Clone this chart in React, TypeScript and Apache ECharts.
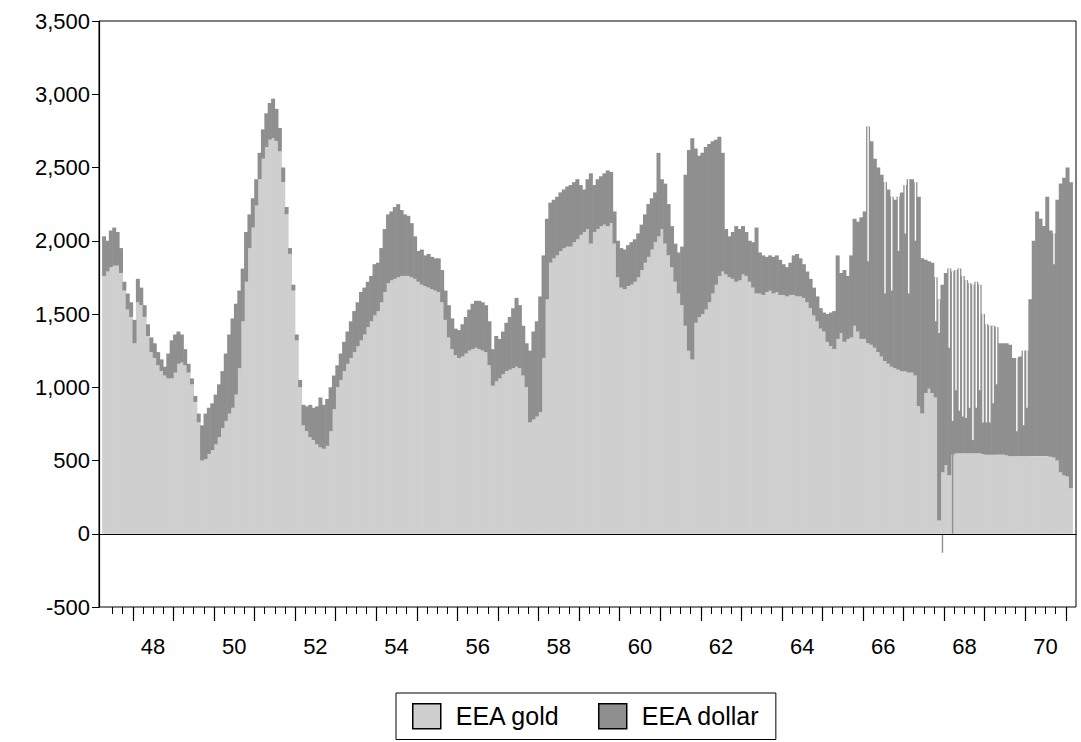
import React, { useEffect, useRef } from 'react';
import * as echarts from 'echarts';

// ---------- categories (monthly, Mar 1947 .. Mar 1971) ----------
const firstYear = 1947;
const firstMonth = 3;
const monthCount = 289;
const months: string[] = [];
for (let i = 0; i < monthCount; i++) {
  const k = firstMonth - 1 + i;
  const y = firstYear + Math.floor(k / 12);
  const m = (k % 12) + 1;
  months.push(`${y}-${m < 10 ? '0' + m : m}`);
}

// ---------- series values (millions of dollars) ----------
const eeaGold: (number | null)[] = [
  /*1947 Mar-Dec*/ null, 1760, 1790, 1820, 1830, 1830, 1780, 1660, 1530, 1480,
  /*1948*/ 1300, 1580, 1560, 1480, 1350, 1240, 1200, 1150, 1110, 1080, 1060, 1060,
  /*1949*/ 1100, 1160, 1170, 1150, 1100, 1020, 900, 760, 500, 510, 545, 570,
  /*1950*/ 610, 660, 720, 770, 820, 860, 950, 1130, 1450, 1720, 1950, 2090,
  /*1951*/ 2240, 2420, 2560, 2640, 2690, 2700, 2680, 2610, 2400, 2180, 1910, 1660,
  /*1952*/ 1320, 1000, 740, 700, 660, 640, 610, 590, 580, 600, 700, 850,
  /*1953*/ 1000, 1050, 1110, 1160, 1200, 1240, 1280, 1320, 1360, 1410, 1450, 1490,
  /*1954*/ 1520, 1580, 1650, 1710, 1730, 1740, 1750, 1760, 1760, 1760, 1750, 1740,
  /*1955*/ 1720, 1700, 1690, 1680, 1670, 1660, 1650, 1580, 1460, 1340, 1260, 1220,
  /*1956*/ 1200, 1210, 1230, 1250, 1260, 1270, 1260, 1250, 1240, 1150, 1010, 1040,
  /*1957*/ 1060, 1090, 1110, 1120, 1130, 1140, 1130, 1080, 1000, 760, 780, 800,
  /*1958*/ 830, 1200, 1600, 1850, 1880, 1900, 1930, 1950, 1960, 1960, 1990, 2010,
  /*1959*/ 2040, 2060, 2080, 1980, 2060, 2080, 2100, 2110, 2100, 2120, 1980, 1750,
  /*1960*/ 1680, 1670, 1690, 1700, 1720, 1750, 1800, 1850, 1890, 1940, 1990, 2030,
  /*1961*/ 2080, 1980, 1900, 1820, 1720, 1640, 1560, 1420, 1250, 1190, 1440, 1480,
  /*1962*/ 1500, 1530, 1580, 1640, 1700, 1760, 1790, 1770, 1750, 1740, 1720, 1730,
  /*1963*/ 1770, 1760, 1720, 1680, 1640, 1640, 1630, 1650, 1660, 1640, 1650, 1630,
  /*1964*/ 1630, 1620, 1630, 1630, 1620, 1620, 1610, 1580, 1540, 1490, 1450, 1400,
  /*1965*/ 1380, 1310, 1280, 1260, 1330, 1370, 1310, 1330, 1340, 1420, 1380, 1330,
  /*1966*/ 1330, 1300, 1290, 1270, 1240, 1210, 1180, 1160, 1140, 1130, 1120, 1110,
  /*1967*/ 1110, 1100, 1100, 1080, 870, 820, 960, 990, 960, 930, 90, 420,
  /*1968*/ 470, 400, 540, 550, 550, 550, 550, 550, 550, 550, 550, 545,
  /*1969*/ 540, 540, 540, 540, 540, 540, 535, 530, 530, 530, 530, 530,
  /*1970*/ 530, 530, 530, 530, 530, 530, 530, 525, 520, 500, 420, 400,
  /*1971 Jan-Mar*/ 390, 310, null,
];

const eeaDollar: (number | null)[] = [
  /*1947 Mar-Dec*/ null, 270, 210, 250, 260, 230, 170, 60, 110, 100,
  /*1948*/ 160, 160, 120, 80, 80, 100, 100, 90, 80, 60, 170, 260,
  /*1949*/ 260, 220, 190, 110, 60, 40, 40, 60, 240, 310, 315, 320,
  /*1950*/ 340, 360, 390, 460, 540, 610, 620, 530, 360, 340, 230, 200,
  /*1951*/ 180, 180, 200, 230, 250, 270, 220, 160, 100, 50, 40, 40,
  /*1952*/ 40, 50, 140, 170, 220, 220, 260, 340, 300, 320, 300, 230,
  /*1953*/ 150, 180, 200, 220, 250, 280, 300, 330, 320, 310, 310, 350,
  /*1954*/ 330, 370, 430, 470, 470, 490, 500, 450, 420, 410, 370, 290,
  /*1955*/ 210, 240, 210, 230, 220, 220, 230, 220, 200, 220, 210, 180,
  /*1956*/ 190, 220, 250, 280, 310, 320, 330, 330, 320, 300, 250, 310,
  /*1957*/ 270, 290, 330, 360, 410, 470, 430, 340, 300, 490, 600, 650,
  /*1958*/ 790, 700, 550, 410, 400, 400, 400, 400, 410, 420, 410, 410,
  /*1959*/ 340, 290, 340, 480, 320, 340, 340, 350, 380, 350, 220, 250,
  /*1960*/ 270, 270, 280, 290, 290, 300, 310, 330, 360, 350, 340, 570,
  /*1961*/ 340, 410, 350, 280, 260, 280, 400, 1030, 1370, 1510, 1190, 1100,
  /*1962*/ 1100, 1110, 1080, 1040, 990, 950, 810, 310, 280, 320, 380, 350,
  /*1963*/ 330, 300, 280, 310, 450, 280, 270, 240, 240, 250, 250, 240,
  /*1964*/ 210, 200, 220, 270, 290, 260, 230, 210, 200, 190, 170, 140,
  /*1965*/ 130, 190, 230, 260, 570, 410, 490, 430, 560, 730, 750, 830,
  /*1966*/ 870, 1480, 1390, 1290, 1260, 1240, 1220, 1190, 1160, 1150, 1180, 1220,
  /*1967*/ 1270, 1320, 1320, 1320, 1430, 1060, 910, 870, 890, 820, 1510, 1280,
  /*1968*/ 1310, 1410, 1250, 1250, 1260, 1210, 1180, 1160, 1150, 1170, 1150, 955,
  /*1969*/ 890, 880, 880, 870, 760, 760, 765, 760, 670, 670, 680, 720,
  /*1970*/ 720, 1070, 1470, 1670, 1620, 1570, 1770, 1545, 1530, 1780, 1970, 2030,
  /*1971 Jan-Mar*/ 2110, 2090, null,
];

// Low weekly totals within a month (thin white gaps in the weekly bars)
const gapMonths = [
  '1966-02', '1966-07', '1966-09', '1966-11', '1967-01', '1967-02', '1967-04',
  '1967-10', '1967-11', '1968-02', '1968-03', '1968-04', '1968-05', '1968-06',
  '1968-07', '1968-08', '1968-09', '1968-10', '1968-11', '1968-12', '1969-01',
  '1969-02', '1969-03', '1969-04', '1969-10', '1969-12', '1970-01', '1970-09',
];
const gapLowTotals = [
  1860, 1640, 1660, 1930, 2050, 1640, 2000,
  1450, 1370, 1270, 770, 980, 840, 800,
  790, 860, 640, 860, 980, 760, 760,
  760, 890, 1020, 700, 740, 860, 1840,
];

// Single-week extremes (thin dark lines)
const spikeMonths = ['1967-12', '1968-03'];
const spikeValues = [-130, 540];

// ---------- axis ticks / labels ----------
const yearTicks = [1948, 1949, 1950, 1951, 1952, 1953, 1954, 1955, 1956, 1957, 1958, 1959,
  1960, 1961, 1962, 1963, 1964, 1965, 1966, 1967, 1968, 1969, 1970, 1971];
const labelYears = [1948, 1950, 1952, 1954, 1956, 1958, 1960, 1962, 1964, 1966, 1968, 1970];
const quarterOffsets = [0.25, 0.5, 0.75];

const FONT = 'Liberation Sans, Arial, Helvetica, sans-serif';

export default function App() {
  const ref = useRef<HTMLDivElement>(null);

  useEffect(() => {
    if (!ref.current) return;
    const chart = echarts.init(ref.current, undefined, { renderer: 'svg' });

    const gapBase: (number | null)[] = months.map(() => null);
    const gapWhite: (number | null)[] = months.map(() => null);
    gapMonths.forEach((m, i) => {
      const idx = months.indexOf(m);
      if (idx < 0) return;
      const total = (eeaGold[idx] || 0) + (eeaDollar[idx] || 0);
      gapBase[idx] = gapLowTotals[i];
      gapWhite[idx] = Math.max(0, total - gapLowTotals[i]);
    });
    const spikes: (number | null)[] = months.map(() => null);
    spikeMonths.forEach((m, i) => {
      const idx = months.indexOf(m);
      if (idx >= 0) spikes[idx] = spikeValues[i];
    });

    const quarterTicks: number[] = [1947.5, 1947.75];
    yearTicks.slice(0, -1).forEach((y) => quarterOffsets.forEach((q) => quarterTicks.push(y + q)));
    const labelPos = labelYears.map((y) => y + 0.5);

    const xMin = firstYear + (firstMonth - 1) / 12;
    const xMax = xMin + monthCount / 12;

    const option: any = {
      animation: false,
      backgroundColor: '#ffffff',
      textStyle: { fontFamily: FONT },
      grid: {
        left: 99, right: 5, top: 21, bottom: 135,
        show: true, borderColor: '#000', borderWidth: 1, backgroundColor: 'transparent',
      },
      legend: {
        data: ['EEA gold', 'EEA dollar'],
        left: 396, top: 693,
        orient: 'horizontal',
        selectedMode: false,
        borderColor: '#000', borderWidth: 1,
        padding: [10, 16, 10, 16],
        itemWidth: 28, itemHeight: 25, itemGap: 38,
        icon: 'rect',
        itemStyle: { borderColor: '#000', borderWidth: 1.5 },
        textStyle: { fontSize: 25, color: '#000', fontFamily: FONT, padding: [0, 0, 0, 10] },
      },
      xAxis: [
        {
          type: 'category', data: months, position: 'bottom', boundaryGap: true, z: 5,
          axisLine: { show: true, onZero: true, lineStyle: { color: '#000', width: 1.2 } },
          axisTick: { show: false }, axisLabel: { show: false }, splitLine: { show: false },
        },
        {
          type: 'category', data: months, position: 'bottom', boundaryGap: true, show: false,
        },
        {
          type: 'value', min: xMin, max: xMax, position: 'bottom',
          axisLine: { show: false, onZero: false },
          axisTick: { show: true, length: 14, customValues: yearTicks, lineStyle: { color: '#000', width: 1.2 } },
          axisLabel: {
            show: true, customValues: labelPos, margin: 28, fontSize: 22, color: '#000', fontFamily: FONT,
            formatter: (v: number) => String(Math.floor(v)).slice(2),
          },
          splitLine: { show: false },
        },
        {
          type: 'value', min: xMin, max: xMax, position: 'bottom',
          axisLine: { show: false, onZero: false },
          axisTick: { show: true, length: 7, customValues: quarterTicks, lineStyle: { color: '#000', width: 1 } },
          axisLabel: { show: false },
          splitLine: { show: false },
        },
      ],
      yAxis: {
        type: 'value', min: -500, max: 3500, interval: 500,
        axisLine: { show: true, onZero: false, lineStyle: { color: '#000', width: 1.2 } },
        axisTick: { show: true, length: 7, lineStyle: { color: '#000' } },
        axisLabel: {
          fontSize: 22, color: '#000', margin: 9, fontFamily: FONT,
          formatter: (v: number) => v.toLocaleString('en-US'),
        },
        splitLine: { show: false },
      },
      series: [
        {
          name: 'EEA gold', type: 'bar', stack: 'eea', xAxisIndex: 0, data: eeaGold,
          barWidth: 4,
          itemStyle: { color: '#cfcfcf' },
          emphasis: { disabled: true },
        },
        {
          name: 'EEA dollar', type: 'bar', stack: 'eea', xAxisIndex: 0, data: eeaDollar,
          barWidth: 4,
          itemStyle: { color: '#8f8f8f' },
          emphasis: { disabled: true },
        },
        {
          name: 'gapBase', type: 'bar', stack: 'gap', xAxisIndex: 1, data: gapBase,
          barWidth: 1.4, barGap: '-100%', silent: true,
          itemStyle: { color: 'rgba(0,0,0,0)' },
        },
        {
          name: 'gapWhite', type: 'bar', stack: 'gap', xAxisIndex: 1, data: gapWhite,
          barWidth: 1.4, barGap: '-100%', silent: true,
          itemStyle: { color: '#ffffff' },
        },
        {
          name: 'spikes', type: 'bar', xAxisIndex: 1, data: spikes,
          barWidth: 1.4, barGap: '-100%', silent: true,
          itemStyle: { color: '#8f8f8f' },
        },
      ],
    };

    chart.setOption(option);
    return () => chart.dispose();
  }, []);

  return (
    <div
      ref={ref}
      style={{ position: 'absolute', left: 0, top: 0, width: 1081, height: 742, background: '#fff' }}
    />
  );
}
